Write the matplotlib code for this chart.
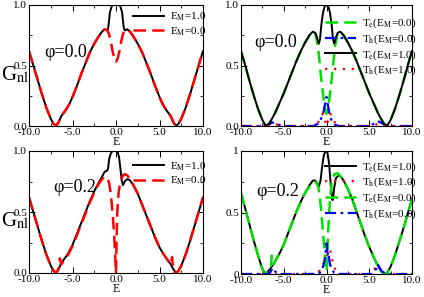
import matplotlib
matplotlib.use("Agg")
import matplotlib.pyplot as plt
from matplotlib.ticker import MultipleLocator, FormatStrFormatter

plt.rcParams['font.family'] = ['Liberation Serif', 'DejaVu Serif']
plt.rcParams['mathtext.fontset'] = 'stix'

# ---- phi = 0.0, total conductance (top left)
E_a0 = [-10, -9.5, -9, -8.5, -8, -7.5, -7.2, -6.9, -6.6, -6.3, -6, -5.7, -5.3, -5, -4.5, -4, -3.5, -3, -2.5, -2,
        -1.6, -1.3, -1.0, -0.8, -0.6, -0.4, -0.2, 0, 0.2, 0.4, 0.6, 0.8, 1.0, 1.3, 1.6,
        2, 2.5, 3, 3.5, 4, 4.5, 5, 5.3, 5.7, 6, 6.3, 6.6, 6.9, 7.2, 7.5, 8, 8.5, 9, 9.5, 10]
G_a0 = [0.62, 0.50, 0.38, 0.26, 0.15, 0.06, 0.02, 0.00, 0.03, 0.08, 0.11, 0.14, 0.19, 0.24, 0.33, 0.43, 0.52, 0.61, 0.68, 0.74,
        0.78, 0.80, 0.79, 0.76, 0.70, 0.62, 0.56, 0.53, 0.56, 0.62, 0.70, 0.76, 0.79, 0.80, 0.78,
        0.74, 0.68, 0.61, 0.52, 0.43, 0.33, 0.24, 0.19, 0.14, 0.11, 0.08, 0.03, 0.00, 0.02, 0.06, 0.15, 0.26, 0.38, 0.50, 0.62]
E_a1 = [-10, -9.5, -9, -8.5, -8, -7.5, -7.2, -6.9, -6.6, -6.3, -6, -5.7, -5.3, -5, -4.5, -4, -3.5, -3, -2.5, -2,
        -1.6, -1.3, -1.0, -0.9, -0.8, -0.7, -0.5, -0.3, 0, 0.3, 0.5, 0.7, 0.8, 0.9, 1.0, 1.3, 1.6,
        2, 2.5, 3, 3.5, 4, 4.5, 5, 5.3, 5.7, 6, 6.3, 6.6, 6.9, 7.2, 7.5, 8, 8.5, 9, 9.5, 10]
G_a1 = [0.62, 0.50, 0.38, 0.26, 0.15, 0.06, 0.02, 0.00, 0.03, 0.08, 0.11, 0.14, 0.19, 0.24, 0.33, 0.43, 0.52, 0.61, 0.68, 0.74,
        0.78, 0.80, 0.79, 0.81, 0.87, 0.94, 0.99, 1.00, 1.00, 1.00, 0.99, 0.94, 0.87, 0.81, 0.79, 0.80, 0.78,
        0.74, 0.68, 0.61, 0.52, 0.43, 0.33, 0.24, 0.19, 0.14, 0.11, 0.08, 0.03, 0.00, 0.02, 0.06, 0.15, 0.26, 0.38, 0.50, 0.62]

# ---- phi = 0.0, electron / hole parts (top right)
E_b1 = [-10, -9.5, -9, -8.5, -8, -7.5, -7.1, -6.7, -6.3, -6, -5.5, -5, -4.5, -4, -3.5, -3, -2.5, -2,
        -1.6, -1.3, -1.1, -0.9, -0.75, -0.6, -0.4, -0.2, 0, 0.2, 0.4, 0.6, 0.75, 0.9, 1.1, 1.3, 1.6,
        2, 2.5, 3, 3.5, 4, 4.5, 5, 5.5, 6, 6.3, 6.7, 7.1, 7.5, 8, 8.5, 9, 9.5, 10]
Te_b1 = [0.62, 0.50, 0.37, 0.25, 0.14, 0.05, 0.00, 0.02, 0.07, 0.11, 0.19, 0.27, 0.36, 0.45, 0.54, 0.62, 0.69, 0.75,
         0.78, 0.77, 0.73, 0.68, 0.72, 0.84, 0.94, 0.99, 1.00, 0.99, 0.94, 0.84, 0.72, 0.68, 0.73, 0.77, 0.78,
         0.75, 0.69, 0.62, 0.54, 0.45, 0.36, 0.27, 0.19, 0.11, 0.07, 0.02, 0.00, 0.05, 0.14, 0.25, 0.37, 0.50, 0.62]
E_b0 = [-10, -9.5, -9, -8.5, -8, -7.5, -7.1, -6.7, -6.3, -6, -5.5, -5, -4.5, -4, -3.5, -3, -2.5, -2,
        -1.6, -1.3, -1.0, -0.8, -0.6, -0.4, -0.2, 0, 0.2, 0.4, 0.6, 0.8, 1.0, 1.3, 1.6,
        2, 2.5, 3, 3.5, 4, 4.5, 5, 5.5, 6, 6.3, 6.7, 7.1, 7.5, 8, 8.5, 9, 9.5, 10]
Te_b0 = [0.62, 0.50, 0.37, 0.25, 0.14, 0.05, 0.00, 0.02, 0.07, 0.11, 0.19, 0.27, 0.36, 0.45, 0.54, 0.62, 0.69, 0.75,
         0.78, 0.76, 0.66, 0.52, 0.38, 0.26, 0.15, 0.10, 0.15, 0.26, 0.38, 0.52, 0.66, 0.76, 0.78,
         0.75, 0.69, 0.62, 0.54, 0.45, 0.36, 0.27, 0.19, 0.11, 0.07, 0.02, 0.00, 0.05, 0.14, 0.25, 0.37, 0.50, 0.62]
E_bh0 = [-10, -7.5, -6.8, -6.3, -6.0, -5.6, -5.0, -1.5, -1.0, -0.7, -0.4, -0.2, 0, 0.2, 0.4, 0.7, 1.0, 1.5,
         5.0, 5.6, 6.0, 6.3, 6.8, 7.5, 10]
Th_b0 = [0, 0, 0.01, 0.03, 0.02, 0.01, 0, 0, 0.02, 0.05, 0.10, 0.17, 0.24, 0.16, 0.08, 0.03, 0.01, 0,
         0, 0.02, 0.04, 0.03, 0.01, 0, 0]
E_bh1 = [-10, -6.5, -6, -5.5, -1.2, -0.9, -0.6, -0.4, -0.2, 0, 0.2, 0.4, 0.6, 0.9, 1.2, 5.5, 6, 6.5, 10]
Th_b1 = [0, 0, 0.02, 0, 0, 0.04, 0.09, 0.10, 0.05, 0.0, 0.05, 0.10, 0.09, 0.04, 0, 0, 0.02, 0, 0]

# ---- phi = 0.2, total conductance (bottom left)
E_c0 = [-10, -9.5, -9, -8.5, -8, -7.5, -7.2, -6.9, -6.7, -6.55, -6.45, -6.3, -6, -5.5, -5, -4.5, -4, -3.5, -3, -2.5,
        -2, -1.6, -1.3, -1.0, -0.8, -0.6, -0.4, -0.2, -0.08, 0, 0.06, 0.15, 0.3, 0.5, 0.8, 1.0, 1.3, 1.6,
        2, 2.5, 3, 3.5, 4, 4.5, 5, 5.5, 6, 6.3, 6.45, 6.55, 6.7, 6.9, 7.2, 7.5, 8, 8.5, 9, 9.5, 10]
G_c0 = [0.62, 0.50, 0.38, 0.26, 0.15, 0.06, 0.02, 0.00, 0.02, 0.05, 0.12, 0.07, 0.10, 0.15, 0.22, 0.31, 0.40, 0.49, 0.58, 0.66,
        0.73, 0.77, 0.79, 0.78, 0.74, 0.65, 0.50, 0.30, 0.12, 0.00, 0.25, 0.50, 0.66, 0.75, 0.80, 0.81, 0.80, 0.77,
        0.72, 0.65, 0.56, 0.47, 0.38, 0.29, 0.21, 0.15, 0.10, 0.07, 0.13, 0.04, 0.01, 0.00, 0.02, 0.06, 0.15, 0.26, 0.38, 0.50, 0.62]
E_c1 = [-10, -9.5, -9, -8.5, -8, -7.5, -7.2, -6.9, -6.6, -6.3, -6, -5.5, -5, -4.5, -4, -3.5, -3, -2.5, -2,
        -1.6, -1.3, -1.0, -0.9, -0.8, -0.6, -0.4, 0, 0.2, 0.35, 0.5, 0.65, 0.8, 1.0, 1.3, 1.6,
        2, 2.5, 3, 3.5, 4, 4.5, 5, 5.5, 6, 6.3, 6.6, 6.9, 7.2, 7.5, 8, 8.5, 9, 9.5, 10]
G_c1 = [0.62, 0.50, 0.38, 0.26, 0.15, 0.06, 0.02, 0.00, 0.03, 0.08, 0.11, 0.16, 0.23, 0.32, 0.41, 0.50, 0.59, 0.67, 0.74,
        0.79, 0.83, 0.84, 0.86, 0.93, 0.98, 1.00, 1.00, 0.99, 0.95, 0.86, 0.76, 0.72, 0.75, 0.77, 0.76,
        0.72, 0.65, 0.56, 0.47, 0.38, 0.29, 0.21, 0.15, 0.10, 0.07, 0.03, 0.00, 0.02, 0.06, 0.15, 0.26, 0.38, 0.50, 0.62]

# ---- phi = 0.2, electron / hole parts (bottom right)
E_d1 = [-10, -9.5, -9, -8.5, -8, -7.6, -7.3, -7.0, -6.6, -6.2, -5.8, -5.4, -5, -4.5, -4, -3.5, -3, -2.5, -2, -1.6,
        -1.3, -1.1, -0.9, -0.7, -0.5, -0.3, -0.1, 0.1, 0.3, 0.5, 0.7, 0.8, 0.9, 1.1, 1.4, 1.7, 2,
        2.5, 3, 3.5, 4, 4.5, 5, 5.5, 6, 6.4, 6.8, 7.1, 7.5, 8, 8.5, 9, 9.5, 10]
Te_d1 = [0.66, 0.53, 0.40, 0.27, 0.15, 0.06, 0.01, 0.01, 0.04, 0.08, 0.13, 0.18, 0.24, 0.33, 0.42, 0.51, 0.59, 0.66, 0.72, 0.76,
         0.76, 0.74, 0.71, 0.76, 0.88, 0.97, 1.00, 0.99, 0.90, 0.72, 0.60, 0.63, 0.70, 0.78, 0.80, 0.79, 0.76,
         0.69, 0.61, 0.51, 0.41, 0.31, 0.22, 0.14, 0.07, 0.02, 0.00, 0.01, 0.06, 0.15, 0.26, 0.37, 0.49, 0.61]
E_d0 = [-10, -9.5, -9, -8.5, -8, -7.6, -7.3, -7.0, -6.7, -6.5, -6.4, -6.2, -5.8, -5.4, -5, -4.5, -4, -3.5, -3, -2.5,
        -2, -1.6, -1.3, -1.0, -0.8, -0.6, -0.4, -0.2, -0.05, 0.05, 0.2, 0.4, 0.6, 0.9, 1.3, 1.7, 2, 2.5, 3, 3.5,
        4, 4.5, 5, 5.5, 5.9, 6.1, 6.4, 6.8, 7.1, 7.5, 8, 8.5, 9, 9.5, 10]
Te_d0 = [0.66, 0.53, 0.40, 0.27, 0.15, 0.06, 0.01, 0.01, 0.02, 0.06, 0.15, 0.08, 0.13, 0.18, 0.24, 0.33, 0.42, 0.51, 0.59, 0.66,
         0.71, 0.74, 0.75, 0.72, 0.64, 0.50, 0.33, 0.15, 0.02, 0.05, 0.35, 0.60, 0.74, 0.81, 0.82, 0.79, 0.76, 0.69, 0.61, 0.51,
         0.41, 0.31, 0.22, 0.14, 0.08, 0.05, 0.02, 0.00, 0.01, 0.06, 0.15, 0.26, 0.37, 0.49, 0.61]
E_dh0 = [-10, -7, -6.6, -6.3, -6.0, -5.5, -1, -0.6, -0.4, -0.2, -0.1, 0, 0.1, 0.2, 0.4, 0.6, 0.9, 1.5,
         5.3, 5.8, 6.0, 6.2, 6.5, 7, 10]
Th_d0 = [0, 0, 0.01, 0.05, 0.02, 0, 0, 0.02, 0.06, 0.12, 0.18, 0.25, 0.15, 0.18, 0.08, 0.04, 0.01, 0,
         0, 0.04, 0.08, 0.05, 0.02, 0, 0]
E_dh1 = [-10, -6.8, -6.4, -6.0, -1.2, -0.8, -0.5, -0.2, 0, 0.2, 0.4, 0.6, 0.8, 1.1, 1.5, 5.0, 5.6, 6.0, 6.4, 7, 10]
Th_d1 = [0, 0, 0.02, 0, 0, 0.03, 0.07, 0.10, 0.12, 0.18, 0.20, 0.14, 0.07, 0.03, 0, 0, 0.04, 0.08, 0.03, 0, 0]

W, H = 424.0, 297.0
fig = plt.figure(figsize=(4.24, 2.97), dpi=100)

def make_ax(x0, x1, ytop, ybot):
    return fig.add_axes([x0 / W, 1 - ybot / H, (x1 - x0) / W, (ybot - ytop) / H])

ax_tl = make_ax(29, 203, 5, 126)
ax_tr = make_ax(241, 412, 5, 126)
ax_bl = make_ax(29, 203, 151, 273)
ax_br = make_ax(241, 412, 151, 274)

dash = (0, (5, 2.5))
dashdot = (0, (5, 2, 1.2, 2))
dot = (0, (1, 3))

def style(ax, yfmt):
    ax.set_xlim(-10, 10)
    ax.set_ylim(0, 1)
    ax.xaxis.set_major_locator(MultipleLocator(5))
    ax.xaxis.set_minor_locator(MultipleLocator(2.5))
    ax.yaxis.set_major_locator(MultipleLocator(0.5))
    ax.yaxis.set_minor_locator(MultipleLocator(0.25))
    ax.xaxis.set_major_formatter(FormatStrFormatter('%.1f'))
    ax.yaxis.set_major_formatter(FormatStrFormatter(yfmt))
    ax.tick_params(which='both', direction='in', top=True, right=True, labelsize=8, pad=1.5)
    ax.tick_params(which='major', length=4, width=0.7)
    ax.tick_params(which='minor', length=2.5, width=0.6)
    for s in ax.spines.values():
        s.set_linewidth(0.8)
    ax.set_xlabel('E', fontsize=8.5, labelpad=-1)

leg_kw = dict(frameon=False, fontsize=8, handlelength=2.8, handletextpad=0.5,
              labelspacing=0.2, borderaxespad=0.1)

# top left
ax_tl.plot(E_a1, G_a1, color='black', lw=1.4, label='E$_\\mathrm{M}$=1.0')
ax_tl.plot(E_a0, G_a0, color='red', lw=1.8, ls=dash, label='E$_\\mathrm{M}$=0.0')
style(ax_tl, '%.1f')
ax_tl.legend(loc='upper right', bbox_to_anchor=(1.05, 1.0), **leg_kw)
ax_tl.text(0.09, 0.61, 'φ=0.0', transform=ax_tl.transAxes, fontsize=13, va='center')

# top right
ax_tr.plot(E_b0, Te_b0, color='#00dd00', lw=1.8, ls=dash, label='T$_\\mathrm{e}$(E$_\\mathrm{M}$=0.0)')
ax_tr.plot(E_bh0, Th_b0, color='blue', lw=1.6, ls=dashdot, label='T$_\\mathrm{h}$(E$_\\mathrm{M}$=0.0)')
ax_tr.plot(E_b1, Te_b1, color='black', lw=1.4, label='T$_\\mathrm{e}$(E$_\\mathrm{M}$=1.0)')
ax_tr.plot(E_bh1, Th_b1, color='red', lw=1.6, ls=dot, label='T$_\\mathrm{h}$(E$_\\mathrm{M}$=1.0)')
style(ax_tr, '%.1f')
ax_tr.legend(loc='upper right', bbox_to_anchor=(1.06, 0.95), **leg_kw)
ax_tr.text(0.08, 0.69, 'φ=0.0', transform=ax_tr.transAxes, fontsize=13, va='center')

# bottom left
ax_bl.plot(E_c1, G_c1, color='black', lw=1.4, label='E$_\\mathrm{M}$=1.0')
ax_bl.plot(E_c0, G_c0, color='red', lw=1.8, ls=dash, label='E$_\\mathrm{M}$=0.0')
style(ax_bl, '%.1f')
ax_bl.legend(loc='upper right', bbox_to_anchor=(1.05, 0.97), **leg_kw)
ax_bl.text(0.14, 0.70, 'φ=0.2', transform=ax_bl.transAxes, fontsize=13, va='center')

# bottom right
ax_br.plot(E_d1, Te_d1, color='black', lw=1.4, label='T$_\\mathrm{e}$(E$_\\mathrm{M}$=1.0)')
ax_br.plot(E_dh1, Th_d1, color='red', lw=1.6, ls=dot, label='T$_\\mathrm{h}$(E$_\\mathrm{M}$=1.0)')
ax_br.plot(E_d0, Te_d0, color='#00dd00', lw=1.8, ls=dash, label='T$_\\mathrm{e}$(E$_\\mathrm{M}$=0.0)')
ax_br.plot(E_dh0, Th_d0, color='blue', lw=1.6, ls=dashdot, label='T$_\\mathrm{h}$(E$_\\mathrm{M}$=0.0)')
style(ax_br, '%g')
ax_br.legend(loc='upper right', bbox_to_anchor=(1.06, 0.97), **leg_kw)
ax_br.text(0.09, 0.67, 'φ=0.2', transform=ax_br.transAxes, fontsize=13, va='center')

# y labels as free text
fig.text(1 / W, 1 - 80 / H, 'G$_\\mathrm{nl}$', fontsize=15)
fig.text(1 / W, 1 - 226 / H, 'G$_\\mathrm{nl}$', fontsize=15)

fig.savefig('out.png', dpi=100)
